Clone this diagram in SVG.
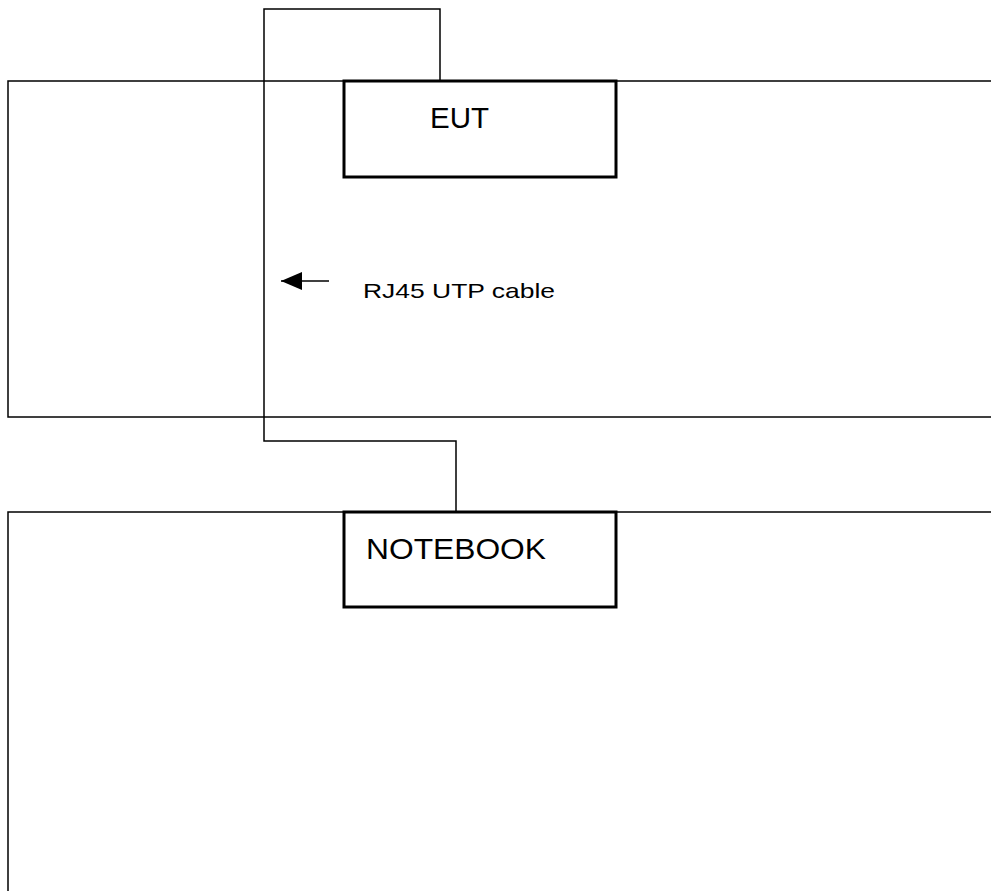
<svg xmlns="http://www.w3.org/2000/svg" width="991" height="891" viewBox="0 0 991 891">
<style>
.tbl{fill:none;stroke:#000;stroke-width:1.5}
.box{fill:#fff;stroke:#000;stroke-width:3}
.cab{fill:none;stroke:#000;stroke-width:1.5}
.lbl{font-family:"Liberation Sans",Arial,sans-serif;fill:#000}
</style>
<defs>
<marker id="ah" markerWidth="21" markerHeight="18" refX="21" refY="9" orient="auto" markerUnits="userSpaceOnUse">
<path d="M0,0 L21,9 L0,18 Z" fill="#000"/>
</marker>
</defs>
<rect width="991" height="891" fill="#fff"/>
<g id="table1"><rect class="tbl" x="8" y="81" width="1000" height="336"/></g>
<g id="table2"><rect class="tbl" x="8" y="512" width="1000" height="400"/></g>
<g id="connectors">
<path class="cab" d="M440,81 V9 H264 V441 H456 V512"/>
<line x1="329" y1="281" x2="281" y2="281" stroke="#000" stroke-width="1.5" marker-end="url(#ah)"/>
</g>
<g id="eut">
<rect class="box" x="344" y="81" width="272" height="96"/>
<text class="lbl" x="430" y="128" font-size="29" textLength="59" lengthAdjust="spacingAndGlyphs">EUT</text>
</g>
<g id="notebook">
<rect class="box" x="344" y="512" width="272" height="95"/>
<text class="lbl" x="366" y="559" font-size="29" textLength="180" lengthAdjust="spacingAndGlyphs">NOTEBOOK</text>
</g>
<g id="label">
<text class="lbl" x="363" y="298" font-size="21" textLength="192" lengthAdjust="spacingAndGlyphs">RJ45 UTP cable</text>
</g>
</svg>
